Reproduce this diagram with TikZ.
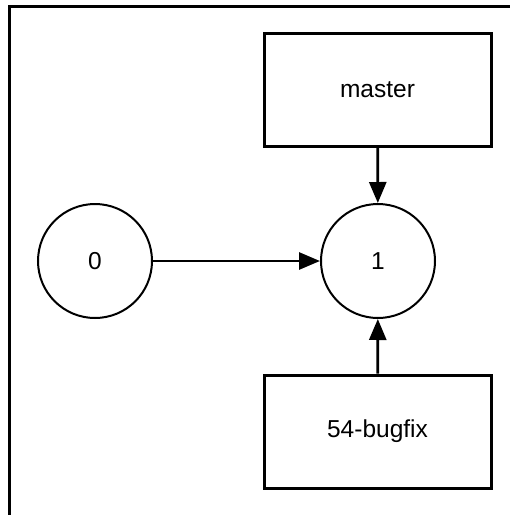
\documentclass[tikz,border=0pt]{standalone}
\usepackage{fontspec}
\setmainfont{Liberation Sans}
\usetikzlibrary{arrows.meta}
\begin{document}
\begin{tikzpicture}[x=1pt,y=-1pt,
  commit/.style={circle,draw,line width=2pt,minimum size=114pt,inner sep=0pt,font=\fontsize{24.5}{28}\selectfont},
  branch/.style={rectangle,draw,line width=3pt,minimum width=227pt,minimum height=113pt,inner sep=0pt,font=\fontsize{24.5}{28}\selectfont},
  link/.style={line width=2.8pt,-{Triangle[length=21pt,width=17pt]}}]
\useasboundingbox (0,0) rectangle (510,515);
\draw[line width=3pt] (9,516) -- (9,6) -- (511,6);
\node[commit] (c0) at (95,261) {0};
\node[commit] (c1) at (378,261) {1};
\node[branch] (m) at (377.5,90) {master};
\node[branch] (b) at (377.5,431.5) {54-bugfix};
\draw[link] (c0) -- (c1);
\draw[link] (m) -- (c1);
\draw[link] (b) -- (c1);
\end{tikzpicture}
\end{document}
